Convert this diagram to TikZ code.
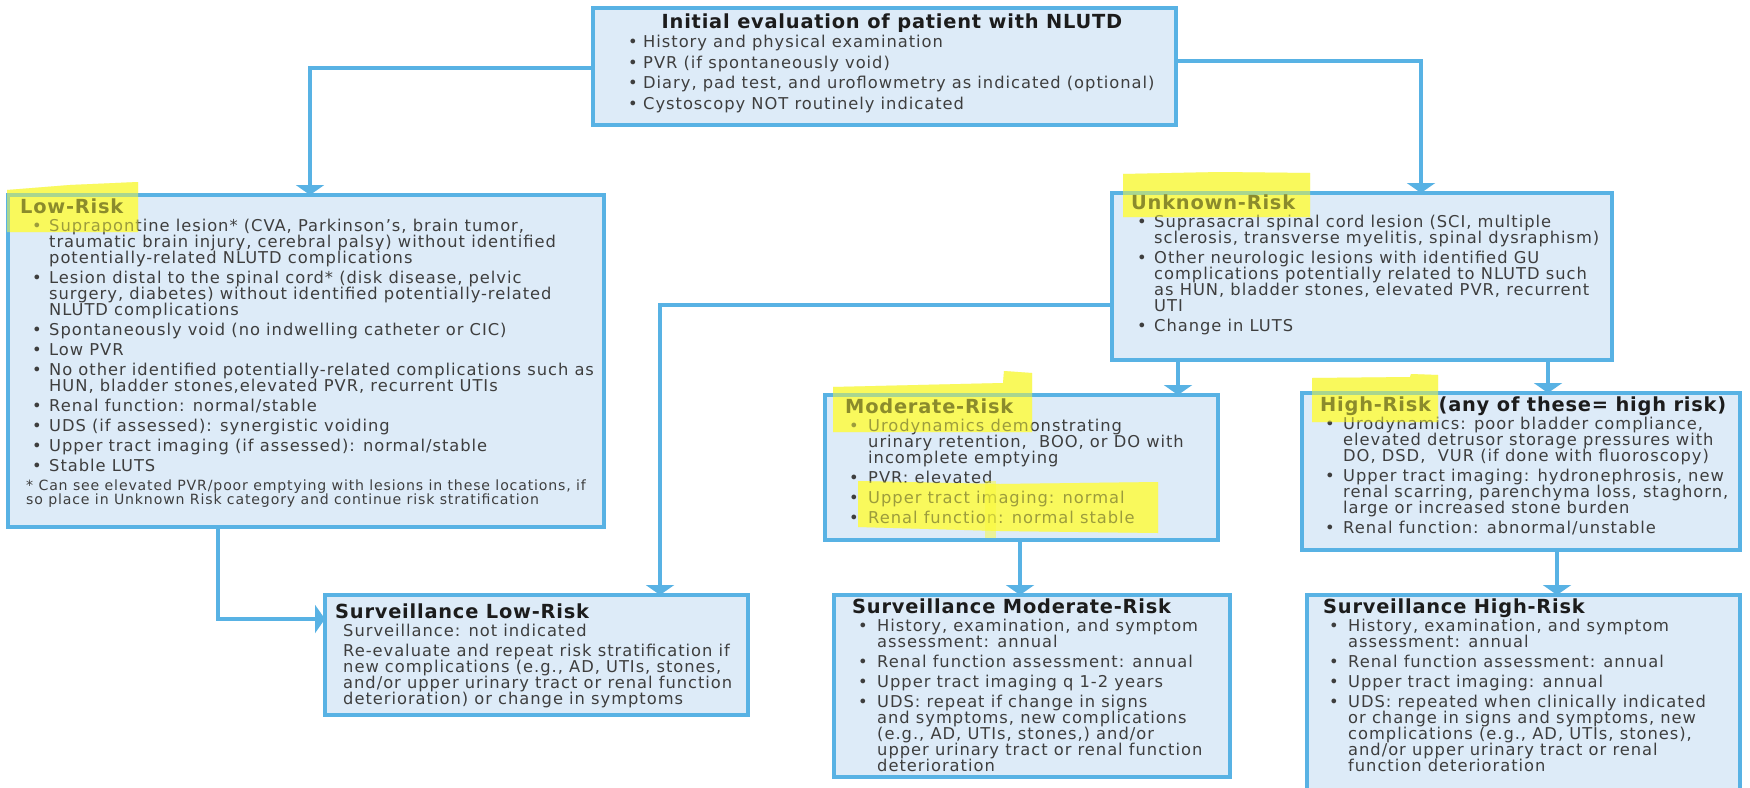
\documentclass[tikz,border=0pt]{standalone}
\usepackage{fontspec}
\setmainfont{DejaVu Sans}[LetterSpace=6]
\newfontfamily\ttlfam{DejaVu Sans}[LetterSpace=4]
\usetikzlibrary{arrows.meta}
\definecolor{lineblue}{RGB}{88,178,228}
\definecolor{boxfill}{RGB}{221,235,248}
\definecolor{txtgray}{RGB}{62,62,62}
\definecolor{ttlblack}{RGB}{28,28,28}
\definecolor{hl}{RGB}{250,250,60}
\definecolor{hlbase}{RGB}{248,248,125}
\newcommand\bodyf{\fontsize{16.3}{16}\selectfont}
\newcommand\footf{\fontsize{14.1}{14}\selectfont}
\newcommand\ttl[1]{{\ttlfam\fontsize{19.4}{16}\selectfont\bfseries\color{ttlblack}#1}}
% line macros: \myboff = bullet offset, \mytind = text indent
\def\myboff{0}\def\mytind{15}
\newcommand\ttline[1]{\hbox{\ttl{#1}}\vskip-2pt}
\newcommand\bitem[1]{\vskip4pt\hbox{\makebox[\mytind pt][l]{\hspace*{\myboff pt}\textbullet}#1}}
\newcommand\pitem[1]{\vskip4pt\hbox{\hspace*{\mytind pt}#1}}
\newcommand\contl[1]{\hbox{\hspace*{\mytind pt}#1}}
\newcommand\txtblk[3]{\vtop{\baselineskip16pt\lineskiplimit-60pt\lineskip0pt\def\myboff{#1}\def\mytind{#2}#3}}
% highlighter stroke outlines
\def\hlA{(7,190) -- (70,185) -- (138,182) -- (138,232) -- (7,232) -- cycle}
\def\hlB{(1123,174) -- (1220,172) -- (1310,173) -- (1310,217) -- (1123,217) -- cycle}
\def\hlC{(833,387) -- (1003,383) -- (1004,371) -- (1032,373) -- (1032,432) -- (833,432) -- cycle}
\def\hlD{(858,481) -- (1000,484) -- (1158,482) -- (1158,533) -- (1000,531) -- (858,527) -- cycle}
\def\hlE{(1312,378) -- (1410,377) -- (1411,374) -- (1438,375) -- (1438,422) -- (1312,422) -- cycle}
\tikzset{
  box/.style={draw=lineblue, line width=3.5pt, fill=boxfill, rectangle, inner sep=0pt, outer sep=0pt, anchor=north west},
  txt/.style={inner sep=0pt, anchor=base west, text=txtgray, font=\bodyf},
  conn/.style={draw=lineblue, line width=3.5pt},
  arr/.style={conn, -{Triangle[width=28pt,length=10pt]}},
  hlunder/.style={fill=hlbase},
  hlite/.style={fill=hl, fill opacity=0.5}
}
\begin{document}
\begin{tikzpicture}[x=1pt,y=-1pt]
\useasboundingbox (0,0) rectangle (1750,787);
\clip (0,0) rectangle (1750,787);
\fill[white] (0,0) rectangle (1750,787);

% boxes
\node[box, minimum width=583pt, minimum height=117pt] (top) at (593,8) {};
\node[box, minimum width=596pt, minimum height=332pt] (low) at (8,195) {};
\node[box, minimum width=500pt, minimum height=167pt] (unk) at (1112,193) {};
\node[box, minimum width=393pt, minimum height=145pt] (mod) at (825,395) {};
\node[box, minimum width=438pt, minimum height=157pt] (high) at (1302,393) {};
\node[box, minimum width=423pt, minimum height=120pt] (svl) at (325,595) {};
\node[box, minimum width=396pt, minimum height=182pt] (svm) at (834,595) {};
\node[box, minimum width=433pt, minimum height=205pt] (svh) at (1307,595) {};

% highlighter, base layer (under the text)
\fill[hlunder] \hlA; \fill[hlunder] \hlB; \fill[hlunder] \hlC; \fill[hlunder] \hlD; \fill[hlunder] \hlE;
% borders of the highlighted boxes stay visible through the marker
\draw[conn] (low.north west) rectangle (low.south east);
\draw[conn] (unk.north west) rectangle (unk.south east);
\draw[conn] (mod.north west) rectangle (mod.south east);
\draw[conn] (high.north west) rectangle (high.south east);

% texts
\node[inner sep=0pt, anchor=base] (toptitle) at (892,28.5) {\ttl{Initial evaluation of patient with NLUTD}};
\node[txt] (toptxt) at (628,47.5) {\txtblk{0}{15}{%
\hbox{\makebox[15pt][l]{\textbullet}History and physical examination}
\vskip0.5pt\bitem{PVR (if spontaneously void)}
\vskip0.5pt\bitem{Diary, pad test, and uroflowmetry as indicated (optional)}
\vskip0.5pt\bitem{Cystoscopy NOT routinely indicated}}};

\node[txt] (lowtxt) at (20,213.5) {\txtblk{12}{29}{%
\ttline{Low-Risk}
\bitem{Suprapontine lesion* (CVA, Parkinson’s, brain tumor,}
\contl{traumatic brain injury, cerebral palsy) without identified}
\contl{potentially-related NLUTD complications}
\bitem{Lesion distal to the spinal cord* (disk disease, pelvic}
\contl{surgery, diabetes) without identified potentially-related}
\contl{NLUTD complications}
\bitem{Spontaneously void (no indwelling catheter or CIC)}
\bitem{Low PVR}
\bitem{No other identified potentially-related complications such as}
\contl{HUN, bladder stones,elevated PVR, recurrent UTIs}
\bitem{Renal function: normal/stable}
\bitem{UDS (if assessed): synergistic voiding}
\bitem{Upper tract imaging (if assessed): normal/stable}
\bitem{Stable LUTS}
\baselineskip14pt\vskip4.5pt
\hbox{\hspace*{6pt}\footf * Can see elevated PVR/poor emptying with lesions in these locations, if}
\hbox{\hspace*{6pt}\footf so place in Unknown Risk category and continue risk stratification}}};

\node[txt] (unktxt) at (1131,209.5) {\txtblk{6}{23}{%
\ttline{Unknown-Risk}
\bitem{Suprasacral spinal cord lesion (SCI, multiple}
\contl{sclerosis, transverse myelitis, spinal dysraphism)}
\bitem{Other neurologic lesions with identified GU}
\contl{complications potentially related to NLUTD such}
\contl{as HUN, bladder stones, elevated PVR, recurrent}
\contl{UTI}
\bitem{Change in LUTS}}};

\node[txt] (modtxt) at (845,413.5) {\txtblk{4}{23}{%
\ttline{Moderate-Risk}
\bitem{Urodynamics demonstrating}
\contl{urinary retention,\ \ BOO, or DO with}
\contl{incomplete emptying}
\bitem{PVR: elevated}
\bitem{Upper tract imaging: normal}
\bitem{Renal function: normal stable}}};

\node[txt] (hightxt) at (1320,411.5) {\txtblk{5}{23}{%
\ttline{High-Risk (any of these= high risk)}
\bitem{Urodynamics: poor bladder compliance,}
\contl{elevated detrusor storage pressures with}
\contl{DO, DSD,\ \ VUR (if done with fluoroscopy)}
\bitem{Upper tract imaging: hydronephrosis, new}
\contl{renal scarring, parenchyma loss, staghorn,}
\contl{large or increased stone burden}
\bitem{Renal function: abnormal/unstable}}};

\node[txt] (svltxt) at (335,618.5) {\txtblk{0}{8}{%
\ttline{Surveillance Low-Risk}
\pitem{Surveillance: not indicated}
\pitem{Re-evaluate and repeat risk stratification if}
\contl{new complications (e.g., AD, UTIs, stones,}
\contl{and/or upper urinary tract or renal function}
\contl{deterioration) or change in symptoms}}};

\node[txt] (svmtxt) at (852,613.5) {\txtblk{6}{25}{%
\ttline{Surveillance Moderate-Risk}
\bitem{History, examination, and symptom}
\contl{assessment: annual}
\bitem{Renal function assessment: annual}
\bitem{Upper tract imaging q 1-2 years}
\bitem{UDS: repeat if change in signs}
\contl{and symptoms, new complications}
\contl{(e.g., AD, UTIs, stones,) and/or}
\contl{upper urinary tract or renal function}
\contl{deterioration}}};

\node[txt] (svhtxt) at (1323,613.5) {\txtblk{6}{25}{%
\ttline{Surveillance High-Risk}
\bitem{History, examination, and symptom}
\contl{assessment: annual}
\bitem{Renal function assessment: annual}
\bitem{Upper tract imaging: annual}
\bitem{UDS: repeated when clinically indicated}
\contl{or change in signs and symptoms, new}
\contl{complications (e.g., AD, UTIs, stones),}
\contl{and/or upper urinary tract or renal}
\contl{function deterioration}}};

% connectors
\draw[arr] ([yshift=-1.5pt]top.west) -| ([xshift=4pt]low.north);
\draw[arr] ([yshift=5.5pt]top.east) -| ([xshift=59pt]unk.north);
\draw[arr] ([yshift=-28.5pt]unk.west) -| ([xshift=123.5pt]svl.north);
\draw[arr] ([xshift=-184pt]unk.south) -- ([xshift=-184pt]unk.south |- mod.north);
\draw[arr] ([xshift=186pt]unk.south) -- ([xshift=186pt]unk.south |- high.north);
\draw[arr] ([xshift=-88pt]low.south) |- ([yshift=36pt]svl.west);
\draw[arr] ([xshift=-1.5pt]mod.south) -- ([xshift=-1.5pt]mod.south |- svm.north);
\draw[arr] ([xshift=36pt]high.south) -- ([xshift=36pt]high.south |- svh.north);

% highlighter, translucent top layer (tints the text under it)
\fill[hlite] \hlA; \fill[hlite] \hlB; \fill[hlite] \hlC; \fill[hlite] \hlD; \fill[hlite] \hlE;
\fill[hlite] (985,481) rectangle (996,538);
\end{tikzpicture}
\end{document}
